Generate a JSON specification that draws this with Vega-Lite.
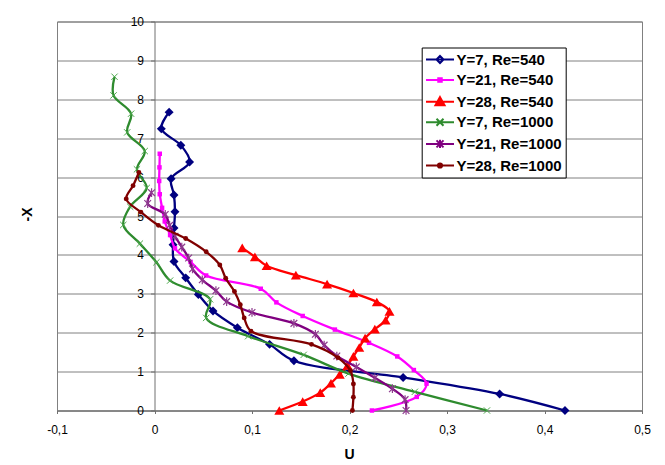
{
  "$schema": "https://vega.github.io/schema/vega-lite/v6.json",
  "width": 585,
  "height": 389,
  "autosize": {"type": "none"},
  "padding": {"left": 57, "top": 21.5, "right": 23, "bottom": 54.5},
  "background": "white",
  "config": {
    "view": {"stroke": "#808080", "strokeWidth": 1},
    "font": "Liberation Sans",
    "axis": {"labelFont": "Liberation Sans", "titleFont": "Liberation Sans", "labelColor": "black", "titleColor": "black", "labelFontSize": 12, "titleFontSize": 14, "titleFontWeight": "bold", "domainColor": "#707070", "tickColor": "#707070", "gridColor": "#808080", "gridOpacity": 1, "labelFlush": false, "labelOverlap": false}
  },
  "data": {"values": [
    {"s": "Y=7, Re=540", "X": 0, "U": 0.421},
    {"s": "Y=7, Re=540", "X": 0.426, "U": 0.354},
    {"s": "Y=7, Re=540", "X": 0.85, "U": 0.255},
    {"s": "Y=7, Re=540", "X": 1.28, "U": 0.143},
    {"s": "Y=7, Re=540", "X": 1.70, "U": 0.118},
    {"s": "Y=7, Re=540", "X": 2.13, "U": 0.085},
    {"s": "Y=7, Re=540", "X": 2.56, "U": 0.060},
    {"s": "Y=7, Re=540", "X": 2.98, "U": 0.045},
    {"s": "Y=7, Re=540", "X": 3.41, "U": 0.032},
    {"s": "Y=7, Re=540", "X": 3.83, "U": 0.020},
    {"s": "Y=7, Re=540", "X": 4.26, "U": 0.019},
    {"s": "Y=7, Re=540", "X": 4.69, "U": 0.020},
    {"s": "Y=7, Re=540", "X": 5.11, "U": 0.021},
    {"s": "Y=7, Re=540", "X": 5.54, "U": 0.020},
    {"s": "Y=7, Re=540", "X": 5.96, "U": 0.017},
    {"s": "Y=7, Re=540", "X": 6.39, "U": 0.036},
    {"s": "Y=7, Re=540", "X": 6.82, "U": 0.027},
    {"s": "Y=7, Re=540", "X": 7.24, "U": 0.007},
    {"s": "Y=7, Re=540", "X": 7.67, "U": 0.015},

    {"s": "Y=21, Re=540", "X": 0, "U": 0.223},
    {"s": "Y=21, Re=540", "X": 0.35, "U": 0.269},
    {"s": "Y=21, Re=540", "X": 0.69, "U": 0.279},
    {"s": "Y=21, Re=540", "X": 1.04, "U": 0.266},
    {"s": "Y=21, Re=540", "X": 1.39, "U": 0.249},
    {"s": "Y=21, Re=540", "X": 1.74, "U": 0.220},
    {"s": "Y=21, Re=540", "X": 2.08, "U": 0.185},
    {"s": "Y=21, Re=540", "X": 2.43, "U": 0.152},
    {"s": "Y=21, Re=540", "X": 2.78, "U": 0.125},
    {"s": "Y=21, Re=540", "X": 3.13, "U": 0.109},
    {"s": "Y=21, Re=540", "X": 3.47, "U": 0.053},
    {"s": "Y=21, Re=540", "X": 3.82, "U": 0.037},
    {"s": "Y=21, Re=540", "X": 4.17, "U": 0.021},
    {"s": "Y=21, Re=540", "X": 4.51, "U": 0.016},
    {"s": "Y=21, Re=540", "X": 4.86, "U": 0.0105},
    {"s": "Y=21, Re=540", "X": 5.21, "U": 0.0078},
    {"s": "Y=21, Re=540", "X": 5.56, "U": 0.0054},
    {"s": "Y=21, Re=540", "X": 5.90, "U": 0.0048},
    {"s": "Y=21, Re=540", "X": 6.25, "U": 0.0051},
    {"s": "Y=21, Re=540", "X": 6.60, "U": 0.0054},

    {"s": "Y=28, Re=540", "X": 0, "U": 0.128},
    {"s": "Y=28, Re=540", "X": 0.23, "U": 0.152},
    {"s": "Y=28, Re=540", "X": 0.46, "U": 0.170},
    {"s": "Y=28, Re=540", "X": 0.70, "U": 0.181},
    {"s": "Y=28, Re=540", "X": 0.93, "U": 0.190},
    {"s": "Y=28, Re=540", "X": 1.16, "U": 0.198},
    {"s": "Y=28, Re=540", "X": 1.39, "U": 0.204},
    {"s": "Y=28, Re=540", "X": 1.62, "U": 0.210},
    {"s": "Y=28, Re=540", "X": 1.86, "U": 0.216},
    {"s": "Y=28, Re=540", "X": 2.09, "U": 0.226},
    {"s": "Y=28, Re=540", "X": 2.32, "U": 0.237},
    {"s": "Y=28, Re=540", "X": 2.55, "U": 0.241},
    {"s": "Y=28, Re=540", "X": 2.79, "U": 0.228},
    {"s": "Y=28, Re=540", "X": 3.02, "U": 0.204},
    {"s": "Y=28, Re=540", "X": 3.25, "U": 0.177},
    {"s": "Y=28, Re=540", "X": 3.48, "U": 0.145},
    {"s": "Y=28, Re=540", "X": 3.72, "U": 0.115},
    {"s": "Y=28, Re=540", "X": 3.95, "U": 0.103},
    {"s": "Y=28, Re=540", "X": 4.18, "U": 0.090},

    {"s": "Y=7, Re=1000", "X": 0, "U": 0.341},
    {"s": "Y=7, Re=1000", "X": 0.48, "U": 0.267},
    {"s": "Y=7, Re=1000", "X": 0.95, "U": 0.199},
    {"s": "Y=7, Re=1000", "X": 1.43, "U": 0.153},
    {"s": "Y=7, Re=1000", "X": 1.91, "U": 0.096},
    {"s": "Y=7, Re=1000", "X": 2.38, "U": 0.053},
    {"s": "Y=7, Re=1000", "X": 2.86, "U": 0.057},
    {"s": "Y=7, Re=1000", "X": 3.34, "U": 0.016},
    {"s": "Y=7, Re=1000", "X": 3.81, "U": 0.002},
    {"s": "Y=7, Re=1000", "X": 4.29, "U": -0.015},
    {"s": "Y=7, Re=1000", "X": 4.77, "U": -0.032},
    {"s": "Y=7, Re=1000", "X": 5.24, "U": -0.025},
    {"s": "Y=7, Re=1000", "X": 5.72, "U": -0.008},
    {"s": "Y=7, Re=1000", "X": 6.20, "U": -0.018},
    {"s": "Y=7, Re=1000", "X": 6.67, "U": -0.010},
    {"s": "Y=7, Re=1000", "X": 7.15, "U": -0.028},
    {"s": "Y=7, Re=1000", "X": 7.63, "U": -0.024},
    {"s": "Y=7, Re=1000", "X": 8.10, "U": -0.042},
    {"s": "Y=7, Re=1000", "X": 8.58, "U": -0.041},

    {"s": "Y=21, Re=1000", "X": 0, "U": 0.258},
    {"s": "Y=21, Re=1000", "X": 0.28, "U": 0.257},
    {"s": "Y=21, Re=1000", "X": 0.56, "U": 0.244},
    {"s": "Y=21, Re=1000", "X": 0.84, "U": 0.226},
    {"s": "Y=21, Re=1000", "X": 1.12, "U": 0.207},
    {"s": "Y=21, Re=1000", "X": 1.40, "U": 0.187},
    {"s": "Y=21, Re=1000", "X": 1.68, "U": 0.174},
    {"s": "Y=21, Re=1000", "X": 1.96, "U": 0.165},
    {"s": "Y=21, Re=1000", "X": 2.24, "U": 0.143},
    {"s": "Y=21, Re=1000", "X": 2.52, "U": 0.100},
    {"s": "Y=21, Re=1000", "X": 2.80, "U": 0.074},
    {"s": "Y=21, Re=1000", "X": 3.08, "U": 0.063},
    {"s": "Y=21, Re=1000", "X": 3.36, "U": 0.049},
    {"s": "Y=21, Re=1000", "X": 3.64, "U": 0.039},
    {"s": "Y=21, Re=1000", "X": 3.92, "U": 0.035},
    {"s": "Y=21, Re=1000", "X": 4.20, "U": 0.028},
    {"s": "Y=21, Re=1000", "X": 4.48, "U": 0.021},
    {"s": "Y=21, Re=1000", "X": 4.76, "U": 0.0155},
    {"s": "Y=21, Re=1000", "X": 5.04, "U": 0.011},
    {"s": "Y=21, Re=1000", "X": 5.32, "U": -0.007},
    {"s": "Y=21, Re=1000", "X": 5.60, "U": -0.003},

    {"s": "Y=28, Re=1000", "X": 0, "U": 0.203},
    {"s": "Y=28, Re=1000", "X": 0.34, "U": 0.204},
    {"s": "Y=28, Re=1000", "X": 0.68, "U": 0.204},
    {"s": "Y=28, Re=1000", "X": 1.02, "U": 0.201},
    {"s": "Y=28, Re=1000", "X": 1.36, "U": 0.188},
    {"s": "Y=28, Re=1000", "X": 1.70, "U": 0.161},
    {"s": "Y=28, Re=1000", "X": 2.04, "U": 0.099},
    {"s": "Y=28, Re=1000", "X": 2.38, "U": 0.092},
    {"s": "Y=28, Re=1000", "X": 2.72, "U": 0.088},
    {"s": "Y=28, Re=1000", "X": 3.06, "U": 0.082},
    {"s": "Y=28, Re=1000", "X": 3.40, "U": 0.073},
    {"s": "Y=28, Re=1000", "X": 3.74, "U": 0.067},
    {"s": "Y=28, Re=1000", "X": 4.08, "U": 0.053},
    {"s": "Y=28, Re=1000", "X": 4.42, "U": 0.032},
    {"s": "Y=28, Re=1000", "X": 4.76, "U": 0.004},
    {"s": "Y=28, Re=1000", "X": 5.10, "U": -0.014},
    {"s": "Y=28, Re=1000", "X": 5.44, "U": -0.029},
    {"s": "Y=28, Re=1000", "X": 5.78, "U": -0.022},
    {"s": "Y=28, Re=1000", "X": 6.12, "U": -0.016}
  ]},
  "encoding": {
    "x": {"field": "U", "type": "quantitative",
      "scale": {"domain": [-0.1, 0.5], "nice": false, "zero": false},
      "axis": {"values": [-0.1, 0, 0.1, 0.2, 0.3, 0.4, 0.5], "grid": false, "tickSize": 3, "labelPadding": 11,
        "labelExpr": "datum.value == 0 ? '0' : (datum.value < 0 ? '-' : '') + replace(format(abs(datum.value), '.1f'), '.', ',')",
        "title": "U", "titleX": 292, "titleY": 43.5, "titleBaseline": "middle", "titleAlign": "center"}},
    "y": {"field": "X", "type": "quantitative",
      "scale": {"domain": [0, 10], "nice": false},
      "axis": {"values": [0,1,2,3,4,5,6,7,8,9,10], "offset": -97.5, "grid": true, "tickSize": 4, "labelPadding": 7,
        "title": "-X", "titleX": -127, "titleY": 192.5, "titleAngle": 270, "titleBaseline": "middle", "titleAlign": "center"}},
    "order": {"field": "X", "type": "quantitative"}
  },
  "layer": [
    {"transform": [{"filter": "datum.s == 'Y=7, Re=540'"}],
     "mark": {"type": "line", "interpolate": "catmull-rom", "strokeWidth": 2.3, "color": "#000080",
              "point": {"shape": "diamond", "filled": true, "size": 80, "color": "#000080"}}},
    {"transform": [{"filter": "datum.s == 'Y=21, Re=540'"}],
     "mark": {"type": "line", "interpolate": "catmull-rom", "strokeWidth": 2.3, "color": "#FF00FF",
              "point": {"shape": "square", "filled": true, "size": 20, "color": "#FF00FF"}}},
    {"transform": [{"filter": "datum.s == 'Y=28, Re=540'"}],
     "mark": {"type": "line", "interpolate": "catmull-rom", "strokeWidth": 2.3, "color": "#FF0000",
              "point": {"shape": "triangle-up", "filled": true, "size": 100, "color": "#FF0000"}}},
    {"transform": [{"filter": "datum.s == 'Y=7, Re=1000'"}],
     "mark": {"type": "line", "interpolate": "catmull-rom", "strokeWidth": 2.3, "color": "#2E8B2E",
              "point": {"shape": "M-1,-1L1,1M-1,1L1,-1", "filled": false, "size": 40, "color": "#4CA84C", "strokeWidth": 1}}},
    {"transform": [{"filter": "datum.s == 'Y=21, Re=1000'"}],
     "mark": {"type": "line", "interpolate": "catmull-rom", "strokeWidth": 2.3, "color": "#800080",
              "point": {"shape": "M-1,-1L1,1M-1,1L1,-1M0,-1.3L0,1.3", "filled": false, "size": 45, "color": "#8E3A8E", "strokeWidth": 1.2}}},
    {"transform": [{"filter": "datum.s == 'Y=28, Re=1000'"}],
     "mark": {"type": "line", "interpolate": "catmull-rom", "strokeWidth": 2.3, "color": "#800000",
              "point": {"shape": "circle", "filled": true, "size": 24, "color": "#800000"}}},
    {"mark": {"type": "point", "filled": true, "opacity": 0, "size": 196, "strokeWidth": 2},
     "encoding": {
       "color": {"field": "s", "type": "nominal",
         "scale": {"domain": ["Y=7, Re=540", "Y=21, Re=540", "Y=28, Re=540", "Y=7, Re=1000", "Y=21, Re=1000", "Y=28, Re=1000"],
                   "range": ["#000080", "#FF00FF", "#FF0000", "#2E8B2E", "#800080", "#800000"]},
         "legend": {"title": null, "orient": "none", "legendX": 364.7, "legendY": 26, "fillColor": "white", "strokeColor": "black",
           "padding": 4, "rowPadding": 4.6, "symbolOffset": 6.3, "labelOffset": 8.5, "symbolSize": 196, "symbolStrokeWidth": 2,
           "labelFont": "Liberation Sans", "labelFontSize": 15, "labelFontWeight": "bold", "labelColor": "black", "labelLimit": 300,
           "symbolOpacity": 1}},
       "stroke": {"field": "s", "type": "nominal",
         "scale": {"domain": ["Y=7, Re=540", "Y=21, Re=540", "Y=28, Re=540", "Y=7, Re=1000", "Y=21, Re=1000", "Y=28, Re=1000"],
                   "range": ["#000080", "#FF00FF", "#FF0000", "#2E8B2E", "#800080", "#800000"]},
         "legend": {"title": null}},
       "shape": {"field": "s", "type": "nominal",
         "scale": {"domain": ["Y=7, Re=540", "Y=21, Re=540", "Y=28, Re=540", "Y=7, Re=1000", "Y=21, Re=1000", "Y=28, Re=1000"],
                   "range": [
                     "M0,-0.5L0.5,0L0,0.5L-0.5,0ZM-2,0H2",
                     "M-0.25,-0.25H0.25V0.25H-0.25ZM-2,0H2",
                     "M0,-0.65L0.65,0.5L-0.65,0.5ZM0,-0.3L0.3,0.3L-0.3,0.3ZM-2,0H2",
                     "M-2,0H2M-0.5,-0.5L0.5,0.5M-0.5,0.5L0.5,-0.5",
                     "M-2,0H2M-0.5,-0.5L0.5,0.5M-0.5,0.5L0.5,-0.5M0,-0.6V0.6",
                     "M-0.3,0A0.3,0.3,0,1,1,0.3,0A0.3,0.3,0,1,1,-0.3,0ZM-2,0H2"
                   ]},
         "legend": {"title": null}}
     }}
  ]
}
